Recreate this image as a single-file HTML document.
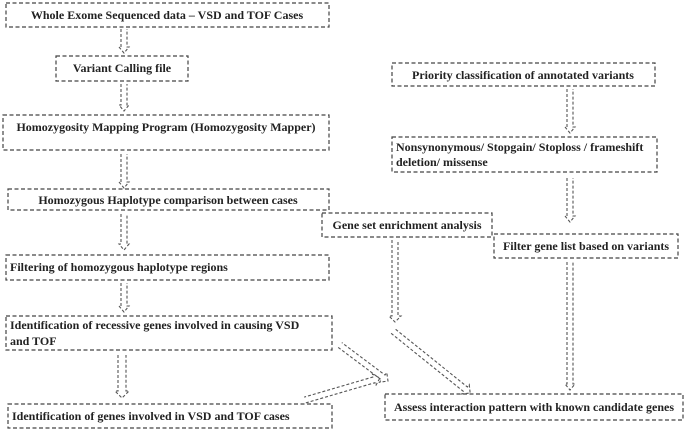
<!DOCTYPE html>
<html><head><style>
body{margin:0;background:#fff;width:685px;height:433px;overflow:hidden}
svg{position:absolute;left:0;top:0}
text{font-family:"Liberation Serif",serif;font-weight:bold;font-size:12px;fill:#222}
.b{fill:none;stroke:#444;stroke-width:1.2;stroke-dasharray:4,2.5}
.a{fill:none;stroke:#555;stroke-width:1.1;stroke-dasharray:3,2}
</style></head><body>
<svg width="685" height="433" viewBox="0 0 685 433">
<defs>
<!-- arrow pointing down, length unit set via scale in y handled per instance -->
</defs>
<rect class="b" x="6" y="3" width="323" height="24"/>
<text x="167" y="19" text-anchor="middle">Whole Exome Sequenced data – VSD and TOF Cases</text>
<rect class="b" x="56" y="56" width="132" height="25"/>
<text x="122" y="72" text-anchor="middle">Variant Calling file</text>
<rect class="b" x="3" y="115" width="326" height="35"/>
<text x="166" y="131" text-anchor="middle">Homozygosity Mapping Program (Homozygosity Mapper)</text>
<rect class="b" x="8" y="189" width="321" height="21"/>
<text x="168" y="204" text-anchor="middle">Homozygous Haplotype comparison between cases</text>
<rect class="b" x="6" y="255" width="323" height="25"/>
<text x="10" y="271">Filtering of homozygous haplotype regions</text>
<rect class="b" x="6" y="316" width="326" height="34"/>
<text x="10" y="329">Identification of recessive genes involved in causing VSD</text>
<text x="10" y="345">and TOF</text>
<rect class="b" x="8" y="404" width="324" height="24"/>
<text x="12" y="420">Identification of genes involved in VSD and TOF cases</text>
<rect class="b" x="322" y="213" width="170" height="24"/>
<text x="407" y="229" text-anchor="middle">Gene set enrichment analysis</text>
<rect class="b" x="392" y="63" width="263" height="23"/>
<text x="523" y="79" text-anchor="middle">Priority classification of annotated variants</text>
<rect class="b" x="392" y="137" width="265" height="35"/>
<text x="396" y="151">Nonsynonymous/ Stopgain/ Stoploss / frameshift</text>
<text x="396" y="166">deletion/ missense</text>
<rect class="b" x="494" y="234" width="184" height="24"/>
<text x="586" y="250" text-anchor="middle">Filter gene list based on variants</text>
<rect class="b" x="385" y="394" width="298" height="26"/>
<text x="534" y="411" text-anchor="middle">Assess interaction pattern with known candidate genes</text>

<!-- vertical arrows: g translate(cx,y1), polyline with length L -->
<g class="a">
<polyline points="121,29 121,47 119,47 124,53 129,47 127,47 127,29"/>
<polyline points="121,84 121,105 119,105 124,111 129,105 127,105 127,84"/>
<polyline points="121,154 121,182 119,182 124,188 129,182 127,182 127,154"/>
<polyline points="121,214 121,244 119,244 124,250 129,244 127,244 127,214"/>
<polyline points="121,283 121,306 119,306 124,312 129,306 127,306 127,283"/>
<polyline points="118,355 118,391 115,391 122,398 129,391 126,391 126,355"/>
<polyline points="567,89 567,127 565,127 570,133 575,127 573,127 573,89"/>
<polyline points="567,178 567,216 565,216 570,222 575,216 573,216 573,178"/>
<polyline points="567,262 567,384 565,384 570,390 575,384 573,384 573,262"/>
<polyline points="392,240 392,316 389,316 395,322 401,316 398,316 398,240"/>
<g transform="translate(393,331) rotate(-51.2)"><polyline points="-3,0 -3,93 -6,93 0,99 6,93 3,93 3,0"/></g>
<g transform="translate(340,345) rotate(-53.1)"><polyline points="-3,0 -3,54 -6,54 0,60 6,54 3,54 3,0"/></g>
<g transform="translate(305,400) rotate(-106.3)"><polyline points="-3,0 -3,72 -6,72 0,78 6,72 3,72 3,0"/></g>
</g>
</svg>
</body></html>
